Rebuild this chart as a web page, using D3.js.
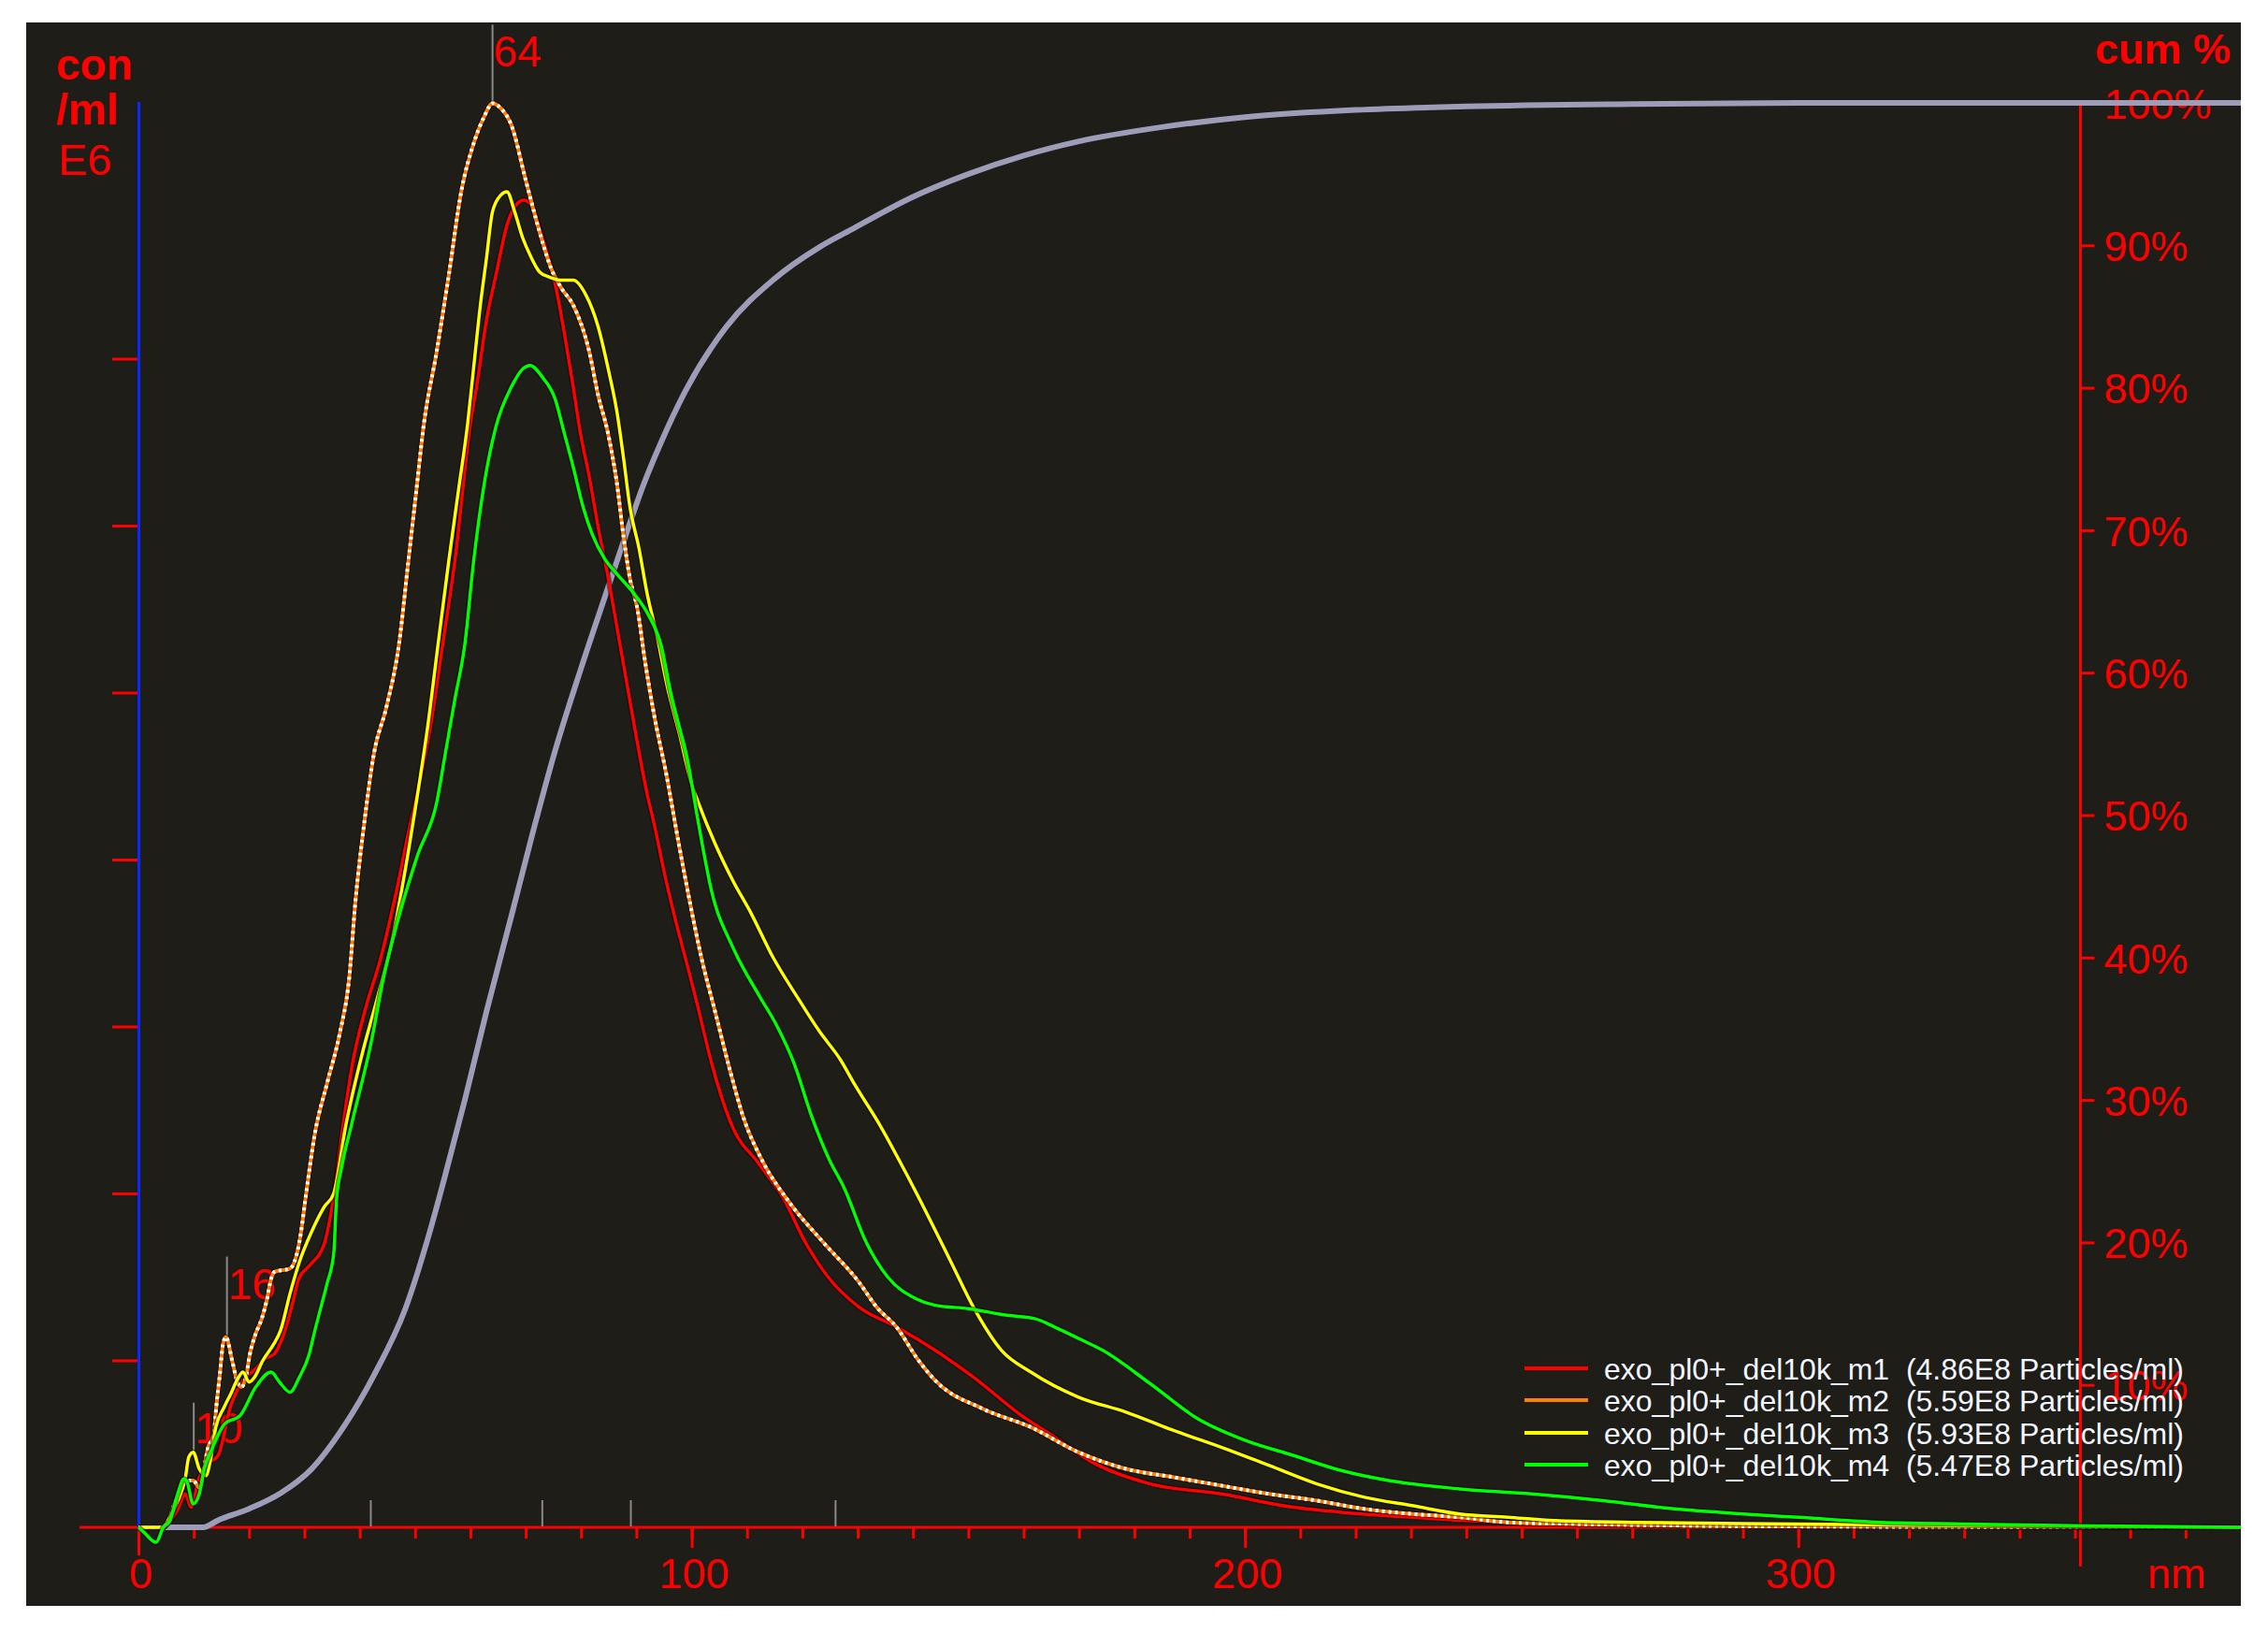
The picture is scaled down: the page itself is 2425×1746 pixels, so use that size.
<!DOCTYPE html>
<html>
<head>
<meta charset="utf-8">
<script src="https://cdn.jsdelivr.net/npm/d3@7/dist/d3.min.js"></script>
<style>
  html, body { margin: 0; padding: 0; background: #ffffff; }
  svg { display: block; }
  text { font-family: "Liberation Sans", Arial, sans-serif; }
</style>
</head>
<body>
<svg id="chart" width="2425" height="1746"></svg>
<script>
// ---------------- DATA ----------------
const sizeTicksMinor = d3.range(0, 371, 10);          // nm
const sizeTicksMajor = [0, 100, 200, 300];            // nm (labelled)
const concTicks = [1, 2, 3, 4, 5, 6, 7];              // con/ml E6
const pctTicks = [10, 20, 30, 40, 50, 60, 70, 80, 90, 100];

const seriesNames  = ["exo_pl0+_del10k_m1", "exo_pl0+_del10k_m2", "exo_pl0+_del10k_m3", "exo_pl0+_del10k_m4"];
const seriesTotals = ["4.86E8", "5.59E8", "5.93E8", "5.47E8"];
const seriesColors = ["#ff0000", "#ff8000", "#ffff00", "#00ff00"];

// [size nm, concentration E6/ml]
const m1Data = [[0,0],[4.5,0],[5.5,0.03],[7,0.1],[8.5,0.2],[9.5,0.12],[11,0.3],[12.5,0.38],[14.4,0.43],[16.7,0.73],[18.9,0.88],[21.2,0.95],[22.9,1.01],[24.6,1.04],[26.3,1.16],[28,1.36],[29,1.49],[31,1.57],[33.6,1.7],[35.3,1.98],[37,2.41],[38.7,2.78],[40.9,3.09],[43.8,3.41],[46.5,3.79],[48.8,4.16],[51,4.49],[52.7,4.78],[55,5.29],[57.2,5.79],[60,6.61],[61.2,6.85],[62.9,7.23],[64.6,7.5],[66.8,7.82],[68.5,7.93],[69.6,7.95],[70.8,7.93],[72.5,7.78],[74,7.62],[75.5,7.42],[77,7.15],[78.5,6.85],[79.8,6.57],[81.5,6.29],[83.1,5.99],[84.9,5.69],[86.5,5.39],[88.2,5.07],[89.9,4.75],[91.9,4.4],[93.3,4.2],[95.2,3.9],[97.2,3.62],[99.1,3.38],[101.1,3.12],[103.6,2.78],[107.5,2.39],[112.1,2.18],[116.6,1.97],[120.5,1.71],[124.4,1.51],[130.2,1.32],[137,1.2],[144,1.06],[150.9,0.9],[159.6,0.67],[165.6,0.54],[172.4,0.39],[182.9,0.26],[195.7,0.2],[208.8,0.12],[217.4,0.09],[230.2,0.06],[240,0.04],[260,0.02],[290,0.01],[380,0]];

const m2Data = [[0,0],[4,0],[5.4,0.04],[6.5,0.14],[7.6,0.22],[8.8,0.28],[9.9,0.28],[11,0.24],[12.7,0.49],[13.6,0.55],[14.1,0.73],[14.7,0.91],[15.3,1.1],[15.8,1.14],[17,0.99],[17.8,0.88],[18.6,0.84],[19.5,0.91],[20.1,1.03],[21.2,1.16],[22.3,1.25],[23.2,1.36],[24,1.49],[24.6,1.53],[27.4,1.55],[28.5,1.62],[29.4,1.77],[30.2,1.97],[31.9,2.36],[34.1,2.66],[36.4,2.96],[38.1,3.29],[39.2,3.74],[40.9,4.24],[42.6,4.64],[44.8,4.91],[47.1,5.29],[48.8,5.79],[50.2,6.2],[51.6,6.61],[53.9,7.04],[56.1,7.5],[58.4,8.01],[60.6,8.29],[62.5,8.45],[64,8.53],[65.5,8.5],[67.4,8.4],[70,8.07],[72.5,7.76],[74.6,7.54],[76.5,7.42],[78.6,7.32],[81.5,7.04],[83.1,6.78],[84.9,6.55],[86.5,6.25],[87.7,5.93],[88.8,5.69],[90.2,5.5],[91.6,5.18],[93.3,4.85],[95.3,4.53],[97.8,4.07],[99.7,3.74],[101.7,3.42],[104.3,3.08],[106.9,2.74],[109.5,2.44],[112.7,2.2],[117.8,1.94],[123.7,1.71],[130.2,1.47],[133.4,1.32],[137,1.2],[141,1.0],[144,0.88],[152.6,0.71],[161.3,0.6],[169.9,0.45],[178.5,0.35],[187.1,0.3],[195.7,0.25],[204.4,0.2],[213,0.16],[221.6,0.11],[230.2,0.08],[239,0.06],[247.5,0.03],[260,0.02],[280,0.01],[300,0.005],[380,0]];

const m3Data = [[0,0],[4.5,0],[5.5,0.05],[7,0.15],[8.5,0.3],[9.1,0.42],[9.9,0.45],[11,0.35],[12.2,0.31],[13,0.4],[14,0.6],[15.5,0.72],[16.7,0.8],[17.8,0.88],[18.9,0.93],[20,0.87],[21,0.9],[22.5,1.0],[24.5,1.1],[25.7,1.18],[27.4,1.4],[29.1,1.59],[31.3,1.77],[33.6,1.92],[35.3,2.0],[37.5,2.41],[40.4,2.83],[43.1,3.16],[46,3.54],[48.8,4.05],[50.5,4.4],[52.3,4.8],[54.2,5.3],[56.1,5.79],[57.8,6.2],[59.5,6.61],[60.6,6.95],[61.8,7.32],[62.9,7.6],[64,7.88],[65.5,7.98],[66.6,8.0],[68,7.88],[69.5,7.72],[70.8,7.62],[72.5,7.52],[74.2,7.49],[76.5,7.47],[78.6,7.47],[80.9,7.38],[83.1,7.19],[84.9,6.94],[86.5,6.68],[87.7,6.4],[88.8,6.12],[90.5,5.86],[91.9,5.6],[93.8,5.33],[95.5,5.05],[97.8,4.75],[100,4.45],[101.1,4.35],[104.3,4.09],[107.5,3.87],[110.7,3.68],[114.6,3.42],[119.2,3.17],[123.1,2.97],[126.9,2.8],[129.5,2.65],[134,2.41],[138.6,2.13],[142.5,1.88],[147,1.58],[150.9,1.32],[156,1.06],[161.3,0.93],[169.9,0.78],[178.5,0.69],[187.1,0.58],[195.7,0.48],[204.4,0.37],[213,0.26],[221.6,0.18],[230.2,0.13],[238.8,0.08],[247.5,0.06],[256,0.04],[270,0.03],[300,0.02],[330,0.01],[380,0]];

const m4Data = [[0,0],[1,-0.03],[3.2,-0.09],[4.5,0],[5.7,0.04],[7.1,0.2],[8.2,0.29],[8.7,0.28],[9.9,0.14],[11,0.2],[11.9,0.35],[13.3,0.47],[15.6,0.62],[18.4,0.67],[21.2,0.84],[24,0.93],[25.5,0.87],[27.4,0.81],[29.1,0.9],[30.8,1.03],[31.9,1.18],[33,1.32],[34.1,1.46],[35.3,1.64],[35.8,1.96],[36.7,2.15],[38.5,2.41],[42.1,2.91],[44.3,3.29],[47.1,3.66],[50.5,4.03],[53.9,4.34],[55.6,4.66],[57.2,4.96],[59,5.29],[60.6,5.79],[62.5,6.25],[64.6,6.59],[67.4,6.83],[69.5,6.94],[70.8,6.96],[73,6.89],[75.3,6.76],[77,6.55],[78.6,6.35],[80.3,6.12],[82,5.95],[84.3,5.8],[86.5,5.71],[89.4,5.6],[92.1,5.47],[94.5,5.28],[96.2,5.0],[97.8,4.79],[99.1,4.62],[101.1,4.24],[103.6,3.81],[107.5,3.47],[112.1,3.19],[115.3,3.01],[118.5,2.78],[121.7,2.46],[124.9,2.2],[127.6,2.03],[131.5,1.71],[135.4,1.5],[140.5,1.37],[144,1.33],[150,1.31],[157,1.27],[162,1.25],[165.6,1.2],[170,1.13],[174.3,1.06],[182.9,0.86],[191.5,0.65],[200.1,0.52],[208.8,0.43],[217.4,0.34],[226,0.28],[238.8,0.23],[251.8,0.2],[264.7,0.16],[277.7,0.11],[290,0.08],[300,0.06],[315,0.03],[330,0.02],[350,0.01],[380,0]];

// cumulative % (size nm, %)
const cumData = [[0,0],[11.7,0],[14.4,0.5],[20,1.3],[25.7,2.4],[31.3,4.1],[37,7.0],[42.6,10.7],[48.2,15.3],[52.7,20.8],[55.3,24.5],[59,30.0],[62.9,36.2],[67.4,42.9],[71.3,48.8],[75.3,54.5],[80,60.3],[84.9,66.0],[88.2,69.8],[91.1,73.0],[94.5,76.2],[98.9,79.8],[106.3,84.3],[114.8,87.6],[123.2,89.9],[129.3,91.2],[140,93.4],[150,95],[160,96.3],[170,97.3],[185,98.3],[200,99],[220,99.5],[240,99.75],[270,99.92],[300,100],[380,100]];

// peak markers
const peakNm     = [64, 16, 10];
const peakValue  = [8.53, 1.14, 0.45];
const peakLabels = ["64", "16", "10"];
// statistic markers on the size axis (D10, D50, mean, D90)
const statNm = [42, 73, 89, 126];
const rightAxisNm = 351;

// ---------------- LAYOUT ----------------
const svg = d3.select("#chart");
const panel = {x0: 28, y0: 24, x1: 2396, y1: 1717};
const baseY = 1633;
const x = d3.scaleLinear().domain([0, 380]).range([148, 2396]);
const yC = d3.scaleLinear().domain([0, 1]).range([baseY, baseY - 178.5]);
const yP = d3.scaleLinear().domain([0, 100]).range([baseY, 110]);
const RED = "#ff0000";
const FONT = '"Liberation Sans", Arial, sans-serif';

svg.append("rect").attr("x", panel.x0).attr("y", panel.y0)
  .attr("width", panel.x1 - panel.x0).attr("height", panel.y1 - panel.y0)
  .attr("fill", "#1f1d17");

svg.append("defs").append("clipPath").attr("id", "clip")
  .append("rect").attr("x", panel.x0).attr("y", panel.y0)
  .attr("width", panel.x1 - panel.x0).attr("height", panel.y1 - panel.y0);

// ---- x axis (minor ticks) ----
const gxMinor = svg.append("g").attr("transform", `translate(0,${baseY})`)
  .call(d3.axisBottom(x).tickValues(sizeTicksMinor).tickSize(12).tickFormat(""));
gxMinor.select(".domain").remove();
gxMinor.selectAll(".tick line").attr("stroke", RED).attr("stroke-width", 3);

// major ticks with labels
const gxMajor = svg.append("g").attr("transform", `translate(0,${baseY})`)
  .call(d3.axisBottom(x).tickValues(sizeTicksMajor).tickSize(22).tickPadding(18).tickFormat(d3.format("d")));
gxMajor.select(".domain").remove();
gxMajor.selectAll(".tick line").attr("stroke", RED).attr("stroke-width", 3)
  .attr("y2", d => d === 0 ? 30 : 22);
gxMajor.selectAll(".tick text").attr("fill", RED).attr("font-size", 45)
  .attr("font-family", FONT).attr("dx", 2).attr("dy", "0.71em").attr("y", 33);

// axis baseline
svg.append("line").attr("x1", 85).attr("x2", panel.x1).attr("y1", baseY).attr("y2", baseY)
  .attr("stroke", RED).attr("stroke-width", 3);

svg.append("text").attr("x", 2296).attr("y", 1698).attr("fill", RED)
  .attr("font-size", 45).attr("font-family", FONT).text("nm");

// ---- left axis ----
const gy = svg.append("g").attr("transform", `translate(${x(0)},0)`)
  .call(d3.axisLeft(yC).tickValues(concTicks).tickSize(28).tickFormat(""));
gy.select(".domain").remove();
gy.selectAll(".tick line").attr("stroke", RED).attr("stroke-width", 3);
svg.append("line").attr("x1", x(0) + 0.5).attr("x2", x(0) + 0.5).attr("y1", 109).attr("y2", baseY)
  .attr("stroke", "#0a2aff").attr("stroke-width", 3).attr("shape-rendering", "crispEdges");

const leftLbl = svg.append("g").attr("fill", RED).attr("font-family", FONT);
leftLbl.append("text").attr("x", 60).attr("y", 85).attr("font-size", 46).attr("font-weight", "bold").text("con");
leftLbl.append("text").attr("x", 60).attr("y", 133).attr("font-size", 46).attr("font-weight", "bold").text("/ml");
leftLbl.append("text").attr("x", 62).attr("y", 187).attr("font-size", 47).text("E6");

// ---- right axis ----
const rx = x(rightAxisNm);
const gr = svg.append("g").attr("transform", `translate(${rx},0)`)
  .call(d3.axisRight(yP).tickValues(pctTicks).tickSize(15).tickPadding(10).tickFormat(d => d + "%"));
gr.select(".domain").remove();
gr.selectAll(".tick line").attr("stroke", RED).attr("stroke-width", 3);
gr.selectAll(".tick text").attr("fill", RED).attr("font-size", 45).attr("font-family", FONT)
  .attr("dy", "0.36em");
svg.append("line").attr("x1", rx).attr("x2", rx).attr("y1", yP(100)).attr("y2", 1675)
  .attr("stroke", RED).attr("stroke-width", 3);
svg.append("text").attr("x", 2240).attr("y", 68).attr("fill", RED).attr("font-size", 45)
  .attr("font-weight", "bold").attr("font-family", FONT).text("cum %");

// ---- stat markers ----
svg.append("g").selectAll("line").data(statNm).join("line")
  .attr("x1", d => x(d)).attr("x2", d => x(d)).attr("y1", baseY - 29).attr("y2", baseY - 1)
  .attr("stroke", "#8a8a8a").attr("stroke-width", 2);

// ---- peak markers ----
const peakLineUp = [84, 86, 53];
const peakTextUp = [39, 41, 10];
const pk = svg.append("g");
pk.selectAll("line").data(peakNm).join("line")
  .attr("x1", d => x(d)).attr("x2", d => x(d))
  .attr("y1", (d, i) => yC(peakValue[i]) - peakLineUp[i]).attr("y2", (d, i) => yC(peakValue[i]))
  .attr("stroke", "#8a8a8a").attr("stroke-width", 2);

// ---- curves ----
const plot = svg.append("g").attr("clip-path", "url(#clip)");
const lineC = d3.line().x(d => x(d[0])).y(d => yC(d[1])).curve(d3.curveMonotoneX);
const lineP = d3.line().x(d => x(d[0])).y(d => yP(d[1])).curve(d3.curveMonotoneX);

plot.append("path").datum(cumData).attr("d", lineP).attr("fill", "none")
  .attr("stroke", "#9d9db9").attr("stroke-width", 6);

const allSeries = [m1Data, m2Data, m3Data, m4Data];
allSeries.forEach((data, i) => {
  plot.append("path").datum(data).attr("d", lineC).attr("fill", "none")
    .attr("stroke", "#000").attr("stroke-opacity", 0.5).attr("stroke-width", 6);
  plot.append("path").datum(data).attr("d", lineC).attr("fill", "none")
    .attr("stroke", seriesColors[i]).attr("stroke-width", i === 1 ? 4 : 3.5);
  if (i === 1) {
    plot.append("path").datum(data).attr("d", lineC).attr("fill", "none")
      .attr("stroke", "#ffffff").attr("stroke-width", 4).attr("stroke-dasharray", "3,4");
  }
});

// peak labels
pk.selectAll("text").data(peakNm).join("text")
  .attr("x", d => x(d) + 1).attr("y", (d, i) => yC(peakValue[i]) - peakTextUp[i])
  .attr("fill", RED).attr("font-size", 46).attr("font-family", FONT)
  .text((d, i) => peakLabels[i]);

// ---- legend ----
const legY = [1463, 1497, 1532, 1566];
const leg = svg.append("g");
seriesNames.forEach((n, i) => {
  leg.append("line").attr("x1", 1630).attr("x2", 1698).attr("y1", legY[i]).attr("y2", legY[i])
    .attr("stroke", seriesColors[i]).attr("stroke-width", 4);
  leg.append("text").attr("x", 1715).attr("y", legY[i] + 12)
    .attr("fill", "#f2f6ff").attr("font-size", 32).attr("font-family", FONT)
    .style("white-space", "pre")
    .text(`${n}  (${seriesTotals[i]} Particles/ml)`);
});
</script>
</body>
</html>
